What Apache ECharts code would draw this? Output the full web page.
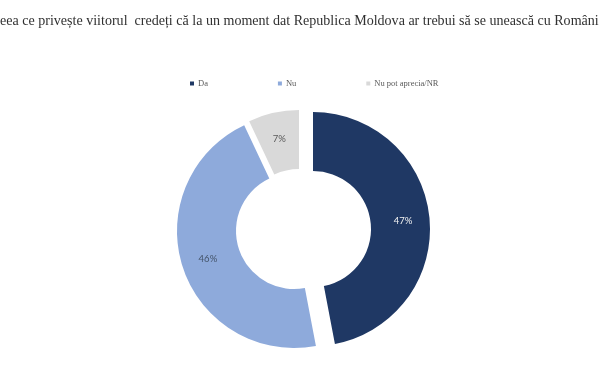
<!DOCTYPE html>
<html>
<head>
<meta charset="utf-8">
<script src="https://cdn.jsdelivr.net/npm/echarts@6/dist/echarts.min.js"></script>
<style>
  html, body { margin: 0; padding: 0; background: #ffffff; }
  #chart { width: 600px; height: 375px; }
</style>
</head>
<body>
<div id="chart"></div>
<script>
// ---- data ----
const titleText = 'eea ce privește viitorul  credeți că la un moment dat Republica Moldova ar trebui să se unească cu Români';
const categories = ['Da', 'Nu', 'Nu pot aprecia/NR'];
const values = [47, 46, 7];

// ---- styles ----
const colors = ['#1f3864', '#8eaadb', '#d9d9d9'];
const labelColors = ['#f2f2f2', '#44546a', '#595959'];
const sliceCenters = [[313, 229], [294, 231], [299, 227]];

// fit title width to the visible strip
const titleFont = 'Liberation Serif';
const cv = document.createElement('canvas').getContext('2d');
cv.font = '20px "' + titleFont + '"';
const w20 = cv.measureText(titleText).width;
const titleSize = Math.min(16, 20 * 599 / w20);

const chart = echarts.init(document.getElementById('chart'), null, { renderer: 'canvas' });

const series = categories.map((_, k) => ({
  type: 'pie',
  silent: true,
  center: sliceCenters[k],
  radius: [58, 117],
  startAngle: 90,
  clockwise: true,
  avoidLabelOverlap: false,
  emphasis: { disabled: true },
  labelLine: { show: false },
  data: categories.map((name, i) => ({
    name: name,
    value: values[i],
    itemStyle: { color: i === k ? colors[i] : 'rgba(0,0,0,0)', borderWidth: 0 },
    label: {
      show: i === k,
      position: 'inside',
      formatter: values[i] + '%',
      color: labelColors[i],
      fontFamily: 'Lato',
      fontSize: 9.5
    }
  }))
}));

chart.setOption({
  backgroundColor: '#ffffff',
  animation: false,
  title: {
    text: titleText,
    left: 0,
    top: 14,
    padding: 0,
    textStyle: {
      fontFamily: titleFont,
      fontSize: titleSize,
      fontWeight: 'normal',
      color: '#303030'
    }
  },
  legend: {
    left: 185,
    top: 74,
    itemWidth: 4,
    itemHeight: 4,
    itemGap: 70,
    icon: 'rect',
    textStyle: {
      fontFamily: 'Liberation Serif',
      fontSize: 8.5,
      color: '#595959',
      padding: [0, 0, 0, -1]
    },
    data: categories.map((name, i) => ({ name: name, itemStyle: { color: colors[i] } }))
  },
  series: series
});
</script>
</body>
</html>
